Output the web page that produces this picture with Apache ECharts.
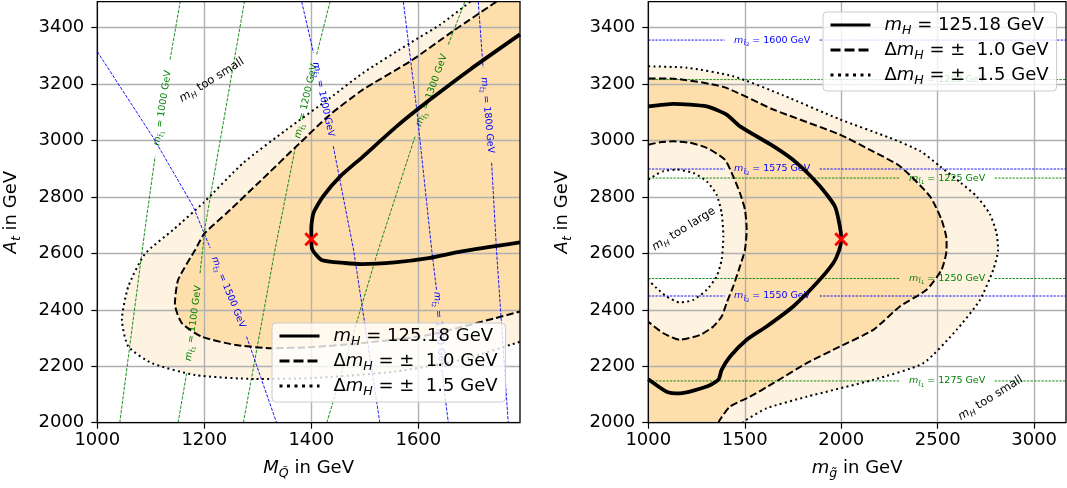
<!DOCTYPE html>
<html>
<head>
<meta charset="utf-8">
<script src="https://cdn.jsdelivr.net/npm/echarts@6.0.0/dist/echarts.min.js"></script>
<style>
html,body{margin:0;padding:0;background:#fff;}
#chart{width:1067px;height:488px;}
</style>
</head>
<body>
<div id="chart"></div>
<script>
// ================= DATA (all values in GeV) =================
const xTicksLeft  = [1000, 1200, 1400, 1600];
const xTicksRight = [1000, 1500, 2000, 2500, 3000];
const yTicks      = [2000, 2200, 2400, 2600, 2800, 3000, 3200, 3400];

// benchmark point (red cross)
const benchLeft  = [[1400, 2650]];
const benchRight = [[2000, 2650]];

// ---- left panel: A_t vs M_Q ----
const leftSolid = [[1790,3376],[1697,3252],[1622,3145],[1560,3051],[1497,2944],[1454,2873],[1422,2802],[1404,2743],[1400,2690],[1400,2650],[1402,2613],[1419,2577],[1463,2566],[1494,2562],[1556,2568],[1619,2583],[1681,2607],[1790,2639]];
const leftDashed = [[1746,3492],[1665,3388],[1585,3281],[1497,3181],[1435,3092],[1379,2992],[1304,2855],[1242,2743],[1200,2670],[1183,2613],[1151,2506],[1145,2420],[1158,2353],[1195,2305],[1257,2276],[1326,2264],[1401,2268],[1494,2282],[1619,2311],[1790,2394]];
const leftDotted = [[1697,3492],[1641,3411],[1585,3346],[1497,3240],[1435,3151],[1354,3039],[1273,2921],[1198,2779],[1142,2684],[1089,2598],[1058,2483],[1046,2365],[1058,2270],[1102,2211],[1183,2169],[1295,2155],[1401,2158],[1556,2181],[1681,2223],[1790,2287]];

// stop-mass contours, each: [mass, part before label, part after label]
const leftStop1 = [
  [1000, [[1042,2000],[1089,2684],[1108,2943]], [[1136,3287],[1155,3492]]],
  [1100, [[1151,2000],[1167,2175]], [[1192,2530],[1202,2700],[1275,3492]]],
  [1200, [[1273,2000],[1332,2612],[1370,2974]], [[1410,3305],[1435,3492]]],
  [1300, [[1429,2000],[1525,2612],[1594,3015]], [[1656,3340],[1687,3492]]]
];
const leftStop2 = [
  [1500, [[1000,3315],[1105,3009],[1179,2767],[1211,2619]], [[1279,2305],[1335,2000]]],
  [1600, [[1382,3492],[1404,3311]], [[1441,2980],[1479,2612],[1528,2000]]],
  [1700, [[1572,3492],[1597,3110],[1625,2612],[1634,2471]], [[1644,2187],[1656,2000]]],
  [1800, [[1712,3492],[1721,3258]], [[1737,2921],[1746,2613],[1768,2000]]]
];

// ---- right panel: A_t vs m_gluino ----
const rightSolid = [[1000,3121],[1130,3130],[1303,3121],[1406,3092],[1475,3050],[1648,2980],[1769,2921],[1890,2838],[1967,2767],[1993,2696],[2000,2650],[1990,2613],[1959,2566],[1873,2495],[1751,2412],[1613,2341],[1510,2294],[1423,2234],[1380,2187],[1363,2152],[1303,2128],[1164,2104],[1095,2110],[1000,2154]];
const rightDashedOuter = [[1000,3220],[1130,3219],[1389,3190],[1648,3110],[1993,3021],[2149,2967],[2304,2909],[2460,2802],[2520,2719],[2546,2648],[2546,2613],[2520,2542],[2442,2471],[2304,2412],[2166,2329],[1993,2270],[1821,2211],[1648,2140],[1527,2092],[1423,2057],[1368,2007],[1365,2000]];
const rightDashedInner = [[1000,2985],[1061,2994],[1130,2997],[1216,2992],[1303,2974],[1397,2932],[1440,2873],[1475,2814],[1501,2755],[1510,2684],[1501,2613],[1475,2554],[1440,2483],[1406,2424],[1380,2376],[1337,2341],[1268,2311],[1164,2294],[1078,2317],[1000,2358]];
const rightDottedOuter = [[1000,3263],[1200,3258],[1440,3228],[1700,3160],[1993,3075],[2250,3010],[2411,2962],[2511,2909],[2620,2850],[2702,2802],[2770,2740],[2805,2672],[2813,2613],[2788,2542],[2719,2435],[2598,2329],[2425,2211],[2166,2152],[1821,2092],[1613,2051],[1501,2007],[1490,2000]];
const rightDottedInner = [[1000,2861],[1043,2880],[1078,2891],[1147,2897],[1233,2885],[1303,2855],[1354,2808],[1380,2743],[1389,2660],[1380,2577],[1354,2518],[1303,2471],[1233,2435],[1164,2426],[1095,2447],[1043,2477],[1000,2506]];

// horizontal stop-mass contours in the right panel: masses and their A_t level
const rightStop1Mass  = [1200, 1225, 1250, 1275];
const rightStop1Level = [3216, 2867, 2511, 2148];
const rightStop2Mass  = [1600, 1575, 1550];
const rightStop2Level = [3356, 2899, 2449];
const rightStop1Gap = [2303, 2795];   // m_g range where the label sits
const rightStop2Gap = [1396, 1888];

// ================= AXIS RANGES =================
const XL = [1000, 1790];
const XR = [1000, 3165];
const YR = [2000, 3492];

// ================= STYLE =================
const FONT = 'DejaVu Sans';
const DARK = '#fedfab';
const LIGHT = '#fef3e1';
const GREEN = '#008000';
const BLUE = '#0000ff';

function richBig(size) {
  const s = size * 0.7;
  return {
    t:  {fontSize: size, fontFamily: FONT, color: '#000', lineHeight: size + 6},
    i:  {fontSize: size, fontFamily: FONT, fontStyle: 'italic', color: '#000', lineHeight: size + 6},
    s:  {fontSize: s, fontFamily: FONT, fontStyle: 'italic', color: '#000', verticalAlign: 'bottom', lineHeight: s + 2.4},
    sp: {width: 9, fontSize: size, fontFamily: FONT, lineHeight: size + 6}
  };
}
function richZr(size, color) {
  const s = size * 0.7, ss = size * 0.55;
  return {
    n:  {fontSize: size, fontFamily: FONT, fill: color, lineHeight: size + 4},
    i:  {fontSize: size, fontFamily: FONT, fontStyle: 'italic', fill: color, lineHeight: size + 4},
    s:  {fontSize: s, fontFamily: FONT, fontStyle: 'italic', fill: color, verticalAlign: 'bottom', lineHeight: s + 3},
    ss: {fontSize: ss, fontFamily: FONT, fill: color, verticalAlign: 'bottom', lineHeight: ss + 1}
  };
}

const legendText = {
  mH:   '{sp| }{i|m}{s|H}{t| = 125.18 GeV}',
  dm1:  '{sp| }{t|Δ}{i|m}{s|H}{t| = ±  1.0 GeV}',
  dm15: '{sp| }{t|Δ}{i|m}{s|H}{t| = ±  1.5 GeV}'
};

const SOLID = {color: '#000', width: 3.8, type: 'solid'};
const DASH  = {color: '#000', width: 2.0, type: [7.4, 3.2]};
const DOT   = {color: '#000', width: 2.0, type: [2, 3.3]};

// ================= SERIES BUILDERS =================
function polySeries(gi, pts, color, z) {
  return {
    type: 'custom', xAxisIndex: gi, yAxisIndex: gi, z: z, clip: true, silent: true,
    data: [pts[0]],
    renderItem: function (p, api) {
      return {type: 'polygon', shape: {points: pts.map(function (q) { return api.coord(q); })},
              style: {fill: color}};
    }
  };
}
function lineSeries(gi, name, pts, style) {
  return {
    type: 'line', name: name, xAxisIndex: gi, yAxisIndex: gi, data: pts,
    symbol: 'none', showSymbol: false, smooth: 0.2, z: 5, silent: true,
    color: '#000', lineStyle: style
  };
}
function stopSeries(gi, items, sub, color, dash, fs) {
  return {
    type: 'custom', xAxisIndex: gi, yAxisIndex: gi, z: 4, clip: true, silent: true,
    data: items.map(function (it) { return it[1][0]; }),
    renderItem: function (p, api) {
      const it = items[p.dataIndex];
      const a = it[1].map(function (q) { return api.coord(q); });
      const b = it[2].map(function (q) { return api.coord(q); });
      const e = a[a.length - 1], s = b[0];
      let ang = Math.atan2(-(s[1] - e[1]), s[0] - e[0]);
      if (ang > Math.PI / 2) ang -= Math.PI;
      if (ang < -Math.PI / 2) ang += Math.PI;
      const ls = {stroke: color, lineWidth: 0.9, lineDash: dash, fill: 'none'};
      return {
        type: 'group',
        children: [
          {type: 'polyline', shape: {points: a}, style: ls},
          {type: 'polyline', shape: {points: b}, style: ls},
          {type: 'text', x: (e[0] + s[0]) / 2, y: (e[1] + s[1]) / 2, rotation: ang,
           style: {text: '{i|m}{s|t̃}{ss|' + sub + '}{n| = ' + it[0] + ' GeV}',
                   rich: richZr(fs, color), fill: color, fontSize: fs, fontFamily: FONT,
                   align: 'center', verticalAlign: 'middle'}}
        ]
      };
    }
  };
}
function hStopItems(masses, levels, gap) {
  return masses.map(function (m, k) {
    return [m, [[XR[0], levels[k]], [gap[0], levels[k]]], [[gap[1], levels[k]], [XR[1], levels[k]]]];
  });
}
function markerSeries(gi, pts) {
  return {
    type: 'custom', xAxisIndex: gi, yAxisIndex: gi, z: 6, silent: true, data: pts,
    renderItem: function (p, api) {
      const c = api.coord([api.value(0), api.value(1)]);
      const r = 6;
      const st = {stroke: '#ff0000', lineWidth: 2.8};
      return {type: 'group', children: [
        {type: 'line', shape: {x1: c[0] - r, y1: c[1] - r, x2: c[0] + r, y2: c[1] + r}, style: st},
        {type: 'line', shape: {x1: c[0] - r, y1: c[1] + r, x2: c[0] + r, y2: c[1] - r}, style: st}
      ]};
    }
  };
}
function noteSeries(gi, where, word, deg) {
  return {
    type: 'custom', xAxisIndex: gi, yAxisIndex: gi, z: 6, silent: true, data: [where],
    renderItem: function (p, api) {
      const c = api.coord([api.value(0), api.value(1)]);
      const r = richZr(11.5, '#000');
      return {type: 'text', x: c[0], y: c[1], rotation: deg * Math.PI / 180,
              style: {text: '{i|m}{s|H}{n| ' + word + '}', rich: r, fill: '#000',
                      fontSize: 11.5, fontFamily: FONT, align: 'center', verticalAlign: 'middle'}};
    }
  };
}

// ================= AXES =================
function plain(v) { return String(v); }
function xAxis(gi, range, ticks, interval, nameRich) {
  return {
    type: 'value', gridIndex: gi, min: range[0], max: range[1], interval: interval, z: 3,
    axisLine: {show: false},
    axisTick: {show: true, length: 6, customValues: ticks, lineStyle: {color: '#000', width: 1.2}},
    axisLabel: {fontSize: 18, fontFamily: FONT, color: '#000', margin: 9, customValues: ticks, formatter: plain},
    splitLine: {show: true, lineStyle: {color: '#b0b0b0', width: 1.4}},
    name: nameRich, nameLocation: 'middle', nameGap: 34,
    nameTextStyle: {rich: richBig(18), fontSize: 18, fontFamily: FONT, color: '#000'}
  };
}
function yAxis(gi) {
  return {
    type: 'value', gridIndex: gi, min: YR[0], max: YR[1], interval: 200, z: 3,
    axisLine: {show: false},
    axisTick: {show: true, length: 6, customValues: yTicks, lineStyle: {color: '#000', width: 1.2}},
    axisLabel: {fontSize: 18, fontFamily: FONT, color: '#000', margin: 13, customValues: yTicks, formatter: plain},
    splitLine: {show: true, lineStyle: {color: '#b0b0b0', width: 1.4}},
    name: '{i|A}{s|t}{t| in GeV}', nameLocation: 'middle', nameRotate: 90, nameGap: 74,
    nameTextStyle: {rich: richBig(18), fontSize: 18, fontFamily: FONT, color: '#000'}
  };
}
function legend(left, top) {
  const hide = {opacity: 0};
  return {
    orient: 'vertical', left: left, top: top, z: 10, selectedMode: false,
    backgroundColor: 'rgba(255,255,255,0.8)', borderColor: '#cccccc', borderWidth: 1, borderRadius: 4,
    padding: [4, 8, 4, 6], itemWidth: 40, itemHeight: 14, itemGap: 4,
    itemStyle: hide,
    data: [
      {name: 'mH',   itemStyle: hide, lineStyle: {width: 3, type: 'solid', color: '#000'}},
      {name: 'dm1',  itemStyle: hide, lineStyle: {width: 3, type: [10, 4], color: '#000'}},
      {name: 'dm15', itemStyle: hide, lineStyle: {width: 3, type: [3, 4.5], color: '#000'}}
    ],
    formatter: function (n) { return legendText[n]; },
    textStyle: {rich: richBig(18), fontSize: 18, fontFamily: FONT, color: '#000'}
  };
}

const gridBase = {show: true, z: 8, borderColor: '#000', borderWidth: 1.3, backgroundColor: 'transparent', top: 1.7, height: 421};

const option = {
  animation: false,
  backgroundColor: '#fff',
  grid: [
    Object.assign({left: 97.3, width: 422.7}, gridBase),
    Object.assign({left: 648.3, width: 417.7}, gridBase)
  ],
  xAxis: [
    xAxis(0, XL, xTicksLeft, 200, '{i|M}{s|Q̃}{t| in GeV}'),
    xAxis(1, XR, xTicksRight, 500, '{i|m}{s|g̃}{t| in GeV}')
  ],
  yAxis: [yAxis(0), yAxis(1)],
  legend: [legend(272, 323), legend(823, 12)],
  series: [
    polySeries(0, leftDotted.concat([[XL[1], YR[1]]]), LIGHT, 1),
    polySeries(0, leftDashed.concat([[XL[1], YR[1]]]), DARK, 1),
    polySeries(1, rightDottedOuter.concat([[XR[0], YR[0]]]), LIGHT, 1),
    polySeries(1, rightDashedOuter.concat([[XR[0], YR[0]]]), DARK, 1),
    polySeries(1, rightDashedInner, LIGHT, 1),
    polySeries(1, rightDottedInner, '#ffffff', 1),
    stopSeries(0, leftStop1, '1', GREEN, [3.3, 1.4], 9.5),
    stopSeries(0, leftStop2, '2', BLUE, [3.3, 1.4], 9.5),
    stopSeries(1, hStopItems(rightStop1Mass, rightStop1Level, rightStop1Gap), '1', GREEN, [2.4, 1.2], 9.5),
    stopSeries(1, hStopItems(rightStop2Mass, rightStop2Level, rightStop2Gap), '2', BLUE, [2.4, 1.2], 9.5),
    lineSeries(0, 'mH', leftSolid, SOLID),
    lineSeries(0, 'dm1', leftDashed, DASH),
    lineSeries(0, 'dm15', leftDotted, DOT),
    lineSeries(1, 'mH', rightSolid, SOLID),
    lineSeries(1, 'dm1', rightDashedOuter, DASH),
    lineSeries(1, 'dm1', rightDashedInner, DASH),
    lineSeries(1, 'dm15', rightDottedOuter, DOT),
    lineSeries(1, 'dm15', rightDottedInner, DOT),
    markerSeries(0, benchLeft),
    markerSeries(1, benchRight),
    noteSeries(0, [1214, 3214], 'too small', 32),
    noteSeries(1, [1184, 2686], 'too large', 32),
    noteSeries(1, [2774, 2087], 'too small', 32)
  ]
};

const chart = echarts.init(document.getElementById('chart'), null, {renderer: 'canvas'});
chart.setOption(option);
</script>
</body>
</html>
